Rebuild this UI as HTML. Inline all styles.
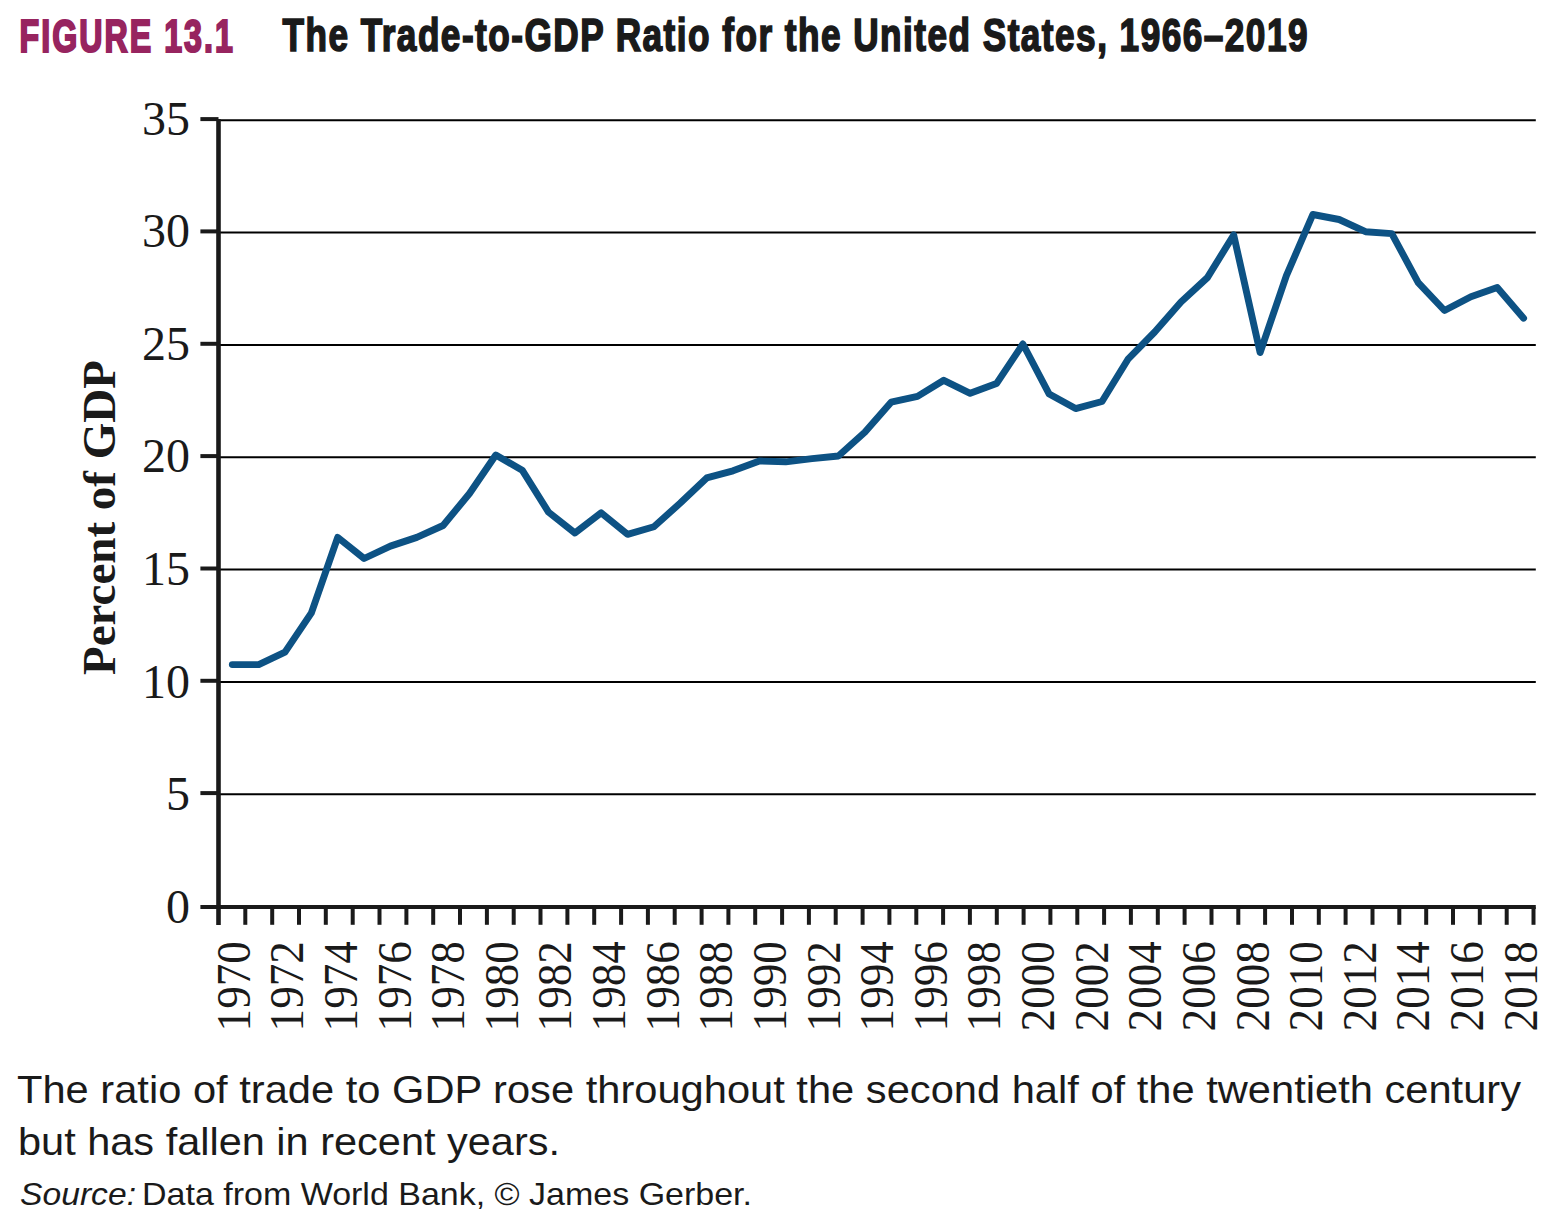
<!DOCTYPE html>
<html><head><meta charset="utf-8"><style>
html,body{margin:0;padding:0;background:#fff;}
body{width:1560px;height:1232px;overflow:hidden;position:relative;}
svg{position:absolute;left:0;top:0;}
.yl{font-family:"Liberation Serif",serif;font-size:48px;fill:#1a1a1a;}
.xl{font-family:"Liberation Serif",serif;font-size:48px;fill:#1a1a1a;}
.yt{font-family:"Liberation Serif",serif;font-weight:bold;font-size:47px;fill:#1a1a1a;}
.fig{font-family:"Liberation Sans",sans-serif;font-weight:bold;font-size:46px;fill:#97245f;stroke:#97245f;stroke-width:2.2px;}
.ttl{font-family:"Liberation Sans",sans-serif;font-weight:bold;font-size:46px;fill:#1a1a1a;stroke:#1a1a1a;stroke-width:1.7px;}
.cap{font-family:"Liberation Sans",sans-serif;font-size:38.8px;fill:#1a1a1a;}
.src{font-family:"Liberation Sans",sans-serif;font-size:32px;fill:#1a1a1a;}
</style></head><body>
<svg width="1560" height="1232" viewBox="0 0 1560 1232">
<text transform="translate(19.6,51.5) scale(0.70,1)" class="fig" textLength="304.6" lengthAdjust="spacing">FIGURE 13.1</text>
<text transform="translate(282.5,51.0) scale(0.765,1)" class="ttl" textLength="1339.9" lengthAdjust="spacing">The Trade-to-GDP Ratio for the United States, 1966–2019</text>
<line x1="218.5" y1="794.2" x2="1535.8" y2="794.2" stroke="#000" stroke-width="2"/>
<line x1="200.4" y1="793.1" x2="218.5" y2="793.1" stroke="#1a1a1a" stroke-width="4"/>
<line x1="218.5" y1="681.9" x2="1535.8" y2="681.9" stroke="#000" stroke-width="2"/>
<line x1="200.4" y1="680.8" x2="218.5" y2="680.8" stroke="#1a1a1a" stroke-width="4"/>
<line x1="218.5" y1="569.6" x2="1535.8" y2="569.6" stroke="#000" stroke-width="2"/>
<line x1="200.4" y1="568.5" x2="218.5" y2="568.5" stroke="#1a1a1a" stroke-width="4"/>
<line x1="218.5" y1="457.2" x2="1535.8" y2="457.2" stroke="#000" stroke-width="2"/>
<line x1="200.4" y1="456.1" x2="218.5" y2="456.1" stroke="#1a1a1a" stroke-width="4"/>
<line x1="218.5" y1="344.9" x2="1535.8" y2="344.9" stroke="#000" stroke-width="2"/>
<line x1="200.4" y1="343.8" x2="218.5" y2="343.8" stroke="#1a1a1a" stroke-width="4"/>
<line x1="218.5" y1="232.5" x2="1535.8" y2="232.5" stroke="#000" stroke-width="2"/>
<line x1="200.4" y1="231.4" x2="218.5" y2="231.4" stroke="#1a1a1a" stroke-width="4"/>
<line x1="218.5" y1="120.2" x2="1535.8" y2="120.2" stroke="#000" stroke-width="2"/>
<line x1="200.4" y1="119.1" x2="218.5" y2="119.1" stroke="#1a1a1a" stroke-width="4"/>
<text x="190" y="922.7" text-anchor="end" class="yl">0</text>
<text x="190" y="810.1" text-anchor="end" class="yl">5</text>
<text x="190" y="697.5" text-anchor="end" class="yl">10</text>
<text x="190" y="584.9" text-anchor="end" class="yl">15</text>
<text x="190" y="472.3" text-anchor="end" class="yl">20</text>
<text x="190" y="359.7" text-anchor="end" class="yl">25</text>
<text x="190" y="247.1" text-anchor="end" class="yl">30</text>
<text x="190" y="134.5" text-anchor="end" class="yl">35</text>
<line x1="200.4" y1="907" x2="1535.8" y2="907" stroke="#1a1a1a" stroke-width="4"/>
<line x1="218.5" y1="119" x2="218.5" y2="925" stroke="#1a1a1a" stroke-width="4.6"/>
<line x1="245.3" y1="907" x2="245.3" y2="924.8" stroke="#1a1a1a" stroke-width="4"/>
<line x1="272.2" y1="907" x2="272.2" y2="924.8" stroke="#1a1a1a" stroke-width="4"/>
<line x1="299.0" y1="907" x2="299.0" y2="924.8" stroke="#1a1a1a" stroke-width="4"/>
<line x1="325.8" y1="907" x2="325.8" y2="924.8" stroke="#1a1a1a" stroke-width="4"/>
<line x1="352.7" y1="907" x2="352.7" y2="924.8" stroke="#1a1a1a" stroke-width="4"/>
<line x1="379.5" y1="907" x2="379.5" y2="924.8" stroke="#1a1a1a" stroke-width="4"/>
<line x1="406.4" y1="907" x2="406.4" y2="924.8" stroke="#1a1a1a" stroke-width="4"/>
<line x1="433.2" y1="907" x2="433.2" y2="924.8" stroke="#1a1a1a" stroke-width="4"/>
<line x1="460.0" y1="907" x2="460.0" y2="924.8" stroke="#1a1a1a" stroke-width="4"/>
<line x1="486.9" y1="907" x2="486.9" y2="924.8" stroke="#1a1a1a" stroke-width="4"/>
<line x1="513.7" y1="907" x2="513.7" y2="924.8" stroke="#1a1a1a" stroke-width="4"/>
<line x1="540.5" y1="907" x2="540.5" y2="924.8" stroke="#1a1a1a" stroke-width="4"/>
<line x1="567.4" y1="907" x2="567.4" y2="924.8" stroke="#1a1a1a" stroke-width="4"/>
<line x1="594.2" y1="907" x2="594.2" y2="924.8" stroke="#1a1a1a" stroke-width="4"/>
<line x1="621.1" y1="907" x2="621.1" y2="924.8" stroke="#1a1a1a" stroke-width="4"/>
<line x1="647.9" y1="907" x2="647.9" y2="924.8" stroke="#1a1a1a" stroke-width="4"/>
<line x1="674.7" y1="907" x2="674.7" y2="924.8" stroke="#1a1a1a" stroke-width="4"/>
<line x1="701.6" y1="907" x2="701.6" y2="924.8" stroke="#1a1a1a" stroke-width="4"/>
<line x1="728.4" y1="907" x2="728.4" y2="924.8" stroke="#1a1a1a" stroke-width="4"/>
<line x1="755.2" y1="907" x2="755.2" y2="924.8" stroke="#1a1a1a" stroke-width="4"/>
<line x1="782.1" y1="907" x2="782.1" y2="924.8" stroke="#1a1a1a" stroke-width="4"/>
<line x1="808.9" y1="907" x2="808.9" y2="924.8" stroke="#1a1a1a" stroke-width="4"/>
<line x1="835.7" y1="907" x2="835.7" y2="924.8" stroke="#1a1a1a" stroke-width="4"/>
<line x1="862.6" y1="907" x2="862.6" y2="924.8" stroke="#1a1a1a" stroke-width="4"/>
<line x1="889.4" y1="907" x2="889.4" y2="924.8" stroke="#1a1a1a" stroke-width="4"/>
<line x1="916.3" y1="907" x2="916.3" y2="924.8" stroke="#1a1a1a" stroke-width="4"/>
<line x1="943.1" y1="907" x2="943.1" y2="924.8" stroke="#1a1a1a" stroke-width="4"/>
<line x1="969.9" y1="907" x2="969.9" y2="924.8" stroke="#1a1a1a" stroke-width="4"/>
<line x1="996.8" y1="907" x2="996.8" y2="924.8" stroke="#1a1a1a" stroke-width="4"/>
<line x1="1023.6" y1="907" x2="1023.6" y2="924.8" stroke="#1a1a1a" stroke-width="4"/>
<line x1="1050.4" y1="907" x2="1050.4" y2="924.8" stroke="#1a1a1a" stroke-width="4"/>
<line x1="1077.3" y1="907" x2="1077.3" y2="924.8" stroke="#1a1a1a" stroke-width="4"/>
<line x1="1104.1" y1="907" x2="1104.1" y2="924.8" stroke="#1a1a1a" stroke-width="4"/>
<line x1="1130.9" y1="907" x2="1130.9" y2="924.8" stroke="#1a1a1a" stroke-width="4"/>
<line x1="1157.8" y1="907" x2="1157.8" y2="924.8" stroke="#1a1a1a" stroke-width="4"/>
<line x1="1184.6" y1="907" x2="1184.6" y2="924.8" stroke="#1a1a1a" stroke-width="4"/>
<line x1="1211.5" y1="907" x2="1211.5" y2="924.8" stroke="#1a1a1a" stroke-width="4"/>
<line x1="1238.3" y1="907" x2="1238.3" y2="924.8" stroke="#1a1a1a" stroke-width="4"/>
<line x1="1265.1" y1="907" x2="1265.1" y2="924.8" stroke="#1a1a1a" stroke-width="4"/>
<line x1="1292.0" y1="907" x2="1292.0" y2="924.8" stroke="#1a1a1a" stroke-width="4"/>
<line x1="1318.8" y1="907" x2="1318.8" y2="924.8" stroke="#1a1a1a" stroke-width="4"/>
<line x1="1345.6" y1="907" x2="1345.6" y2="924.8" stroke="#1a1a1a" stroke-width="4"/>
<line x1="1372.5" y1="907" x2="1372.5" y2="924.8" stroke="#1a1a1a" stroke-width="4"/>
<line x1="1399.3" y1="907" x2="1399.3" y2="924.8" stroke="#1a1a1a" stroke-width="4"/>
<line x1="1426.2" y1="907" x2="1426.2" y2="924.8" stroke="#1a1a1a" stroke-width="4"/>
<line x1="1453.0" y1="907" x2="1453.0" y2="924.8" stroke="#1a1a1a" stroke-width="4"/>
<line x1="1479.8" y1="907" x2="1479.8" y2="924.8" stroke="#1a1a1a" stroke-width="4"/>
<line x1="1506.7" y1="907" x2="1506.7" y2="924.8" stroke="#1a1a1a" stroke-width="4"/>
<line x1="1533.5" y1="907" x2="1533.5" y2="924.8" stroke="#1a1a1a" stroke-width="4"/>
<text transform="translate(249.7,1031.4) rotate(-90)" class="xl" textLength="90.2" lengthAdjust="spacingAndGlyphs">1970</text>
<text transform="translate(303.3,1031.4) rotate(-90)" class="xl" textLength="90.2" lengthAdjust="spacingAndGlyphs">1972</text>
<text transform="translate(356.9,1031.4) rotate(-90)" class="xl" textLength="90.2" lengthAdjust="spacingAndGlyphs">1974</text>
<text transform="translate(410.6,1031.4) rotate(-90)" class="xl" textLength="90.2" lengthAdjust="spacingAndGlyphs">1976</text>
<text transform="translate(464.2,1031.4) rotate(-90)" class="xl" textLength="90.2" lengthAdjust="spacingAndGlyphs">1978</text>
<text transform="translate(517.8,1031.4) rotate(-90)" class="xl" textLength="90.2" lengthAdjust="spacingAndGlyphs">1980</text>
<text transform="translate(571.4,1031.4) rotate(-90)" class="xl" textLength="90.2" lengthAdjust="spacingAndGlyphs">1982</text>
<text transform="translate(625.0,1031.4) rotate(-90)" class="xl" textLength="90.2" lengthAdjust="spacingAndGlyphs">1984</text>
<text transform="translate(678.7,1031.4) rotate(-90)" class="xl" textLength="90.2" lengthAdjust="spacingAndGlyphs">1986</text>
<text transform="translate(732.3,1031.4) rotate(-90)" class="xl" textLength="90.2" lengthAdjust="spacingAndGlyphs">1988</text>
<text transform="translate(785.9,1031.4) rotate(-90)" class="xl" textLength="90.2" lengthAdjust="spacingAndGlyphs">1990</text>
<text transform="translate(839.5,1031.4) rotate(-90)" class="xl" textLength="90.2" lengthAdjust="spacingAndGlyphs">1992</text>
<text transform="translate(893.1,1031.4) rotate(-90)" class="xl" textLength="90.2" lengthAdjust="spacingAndGlyphs">1994</text>
<text transform="translate(946.8,1031.4) rotate(-90)" class="xl" textLength="90.2" lengthAdjust="spacingAndGlyphs">1996</text>
<text transform="translate(1000.4,1031.4) rotate(-90)" class="xl" textLength="90.2" lengthAdjust="spacingAndGlyphs">1998</text>
<text transform="translate(1054.0,1031.4) rotate(-90)" class="xl" textLength="90.2" lengthAdjust="spacingAndGlyphs">2000</text>
<text transform="translate(1107.6,1031.4) rotate(-90)" class="xl" textLength="90.2" lengthAdjust="spacingAndGlyphs">2002</text>
<text transform="translate(1161.2,1031.4) rotate(-90)" class="xl" textLength="90.2" lengthAdjust="spacingAndGlyphs">2004</text>
<text transform="translate(1214.9,1031.4) rotate(-90)" class="xl" textLength="90.2" lengthAdjust="spacingAndGlyphs">2006</text>
<text transform="translate(1268.5,1031.4) rotate(-90)" class="xl" textLength="90.2" lengthAdjust="spacingAndGlyphs">2008</text>
<text transform="translate(1322.1,1031.4) rotate(-90)" class="xl" textLength="90.2" lengthAdjust="spacingAndGlyphs">2010</text>
<text transform="translate(1375.7,1031.4) rotate(-90)" class="xl" textLength="90.2" lengthAdjust="spacingAndGlyphs">2012</text>
<text transform="translate(1429.3,1031.4) rotate(-90)" class="xl" textLength="90.2" lengthAdjust="spacingAndGlyphs">2014</text>
<text transform="translate(1483.0,1031.4) rotate(-90)" class="xl" textLength="90.2" lengthAdjust="spacingAndGlyphs">2016</text>
<text transform="translate(1536.6,1031.4) rotate(-90)" class="xl" textLength="90.2" lengthAdjust="spacingAndGlyphs">2018</text>
<polyline points="232.3,664.6 258.7,664.6 285.0,652.2 311.4,612.8 337.7,537.4 364.1,558.5 390.4,546.1 416.8,537.4 443.1,525.5 469.5,493.5 495.8,455.0 522.2,470.2 548.5,512.1 574.9,533.0 601.2,512.8 627.6,534.4 653.9,526.8 680.3,503.0 706.7,477.9 733.0,470.8 759.4,461.0 785.7,461.8 812.1,458.6 838.4,456.0 864.8,432.3 891.1,402.2 917.5,396.4 943.8,380.3 970.2,393.3 996.5,383.6 1022.9,344.0 1049.2,394.1 1075.6,408.6 1102.0,401.5 1128.3,358.8 1154.7,332.0 1181.0,302.0 1207.4,277.6 1233.7,235.0 1260.1,352.6 1286.4,275.6 1312.8,214.5 1339.1,219.5 1365.5,231.7 1391.8,233.6 1418.2,282.6 1444.5,310.5 1470.9,296.7 1497.2,287.6 1523.6,318.2" fill="none" stroke="#0d5284" stroke-width="6.9" stroke-linejoin="round" stroke-linecap="round"/>
<text transform="translate(115,517.5) rotate(-90)" text-anchor="middle" class="yt">Percent of GDP</text>
<text x="17" y="1103.3" class="cap" textLength="1504" lengthAdjust="spacingAndGlyphs">The ratio of trade to GDP rose throughout the second half of the twentieth century</text>
<text x="18" y="1155.2" class="cap" textLength="542" lengthAdjust="spacingAndGlyphs">but has fallen in recent years.</text>
<text x="20" y="1204.6" class="src" font-style="italic" textLength="116" lengthAdjust="spacingAndGlyphs">Source:</text>
<text x="142" y="1204.6" class="src" textLength="610" lengthAdjust="spacingAndGlyphs">Data from World Bank, © James Gerber.</text>
</svg>
</body></html>
